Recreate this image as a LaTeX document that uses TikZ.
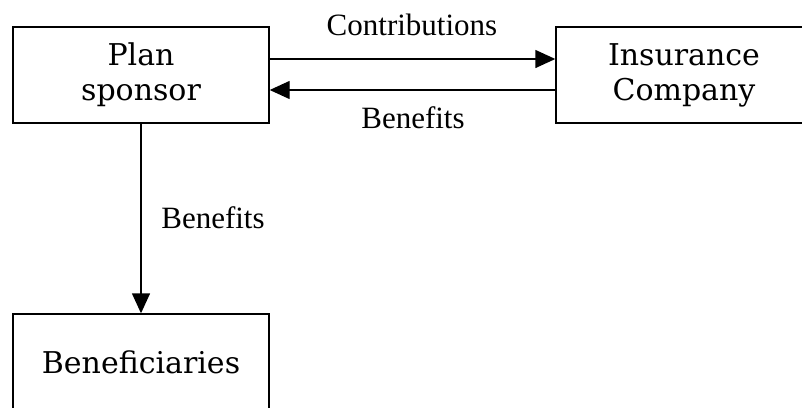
\documentclass[tikz,border=0pt]{standalone}
\usepackage{fontspec}
\setmainfont{Liberation Serif}
\newfontfamily\boxfont{DejaVu Serif}
\usetikzlibrary{arrows.meta}

\begin{document}
\begin{tikzpicture}[x=1pt, y=1pt,
    party/.style={draw, line width=1.4pt, minimum width=256pt, minimum height=96pt,
        align=center, font=\boxfont\fontsize{30}{35}\selectfont},
    flow/.style={line width=1.4pt, -{Triangle[length=20pt, width=18pt]}},
    flowlabel/.style={anchor=base, font=\fontsize{31}{36}\selectfont}]
    \path[use as bounding box, clip] (0,0) rectangle (802,-407);
    % the three parties
    \node[party] (sponsor) at (141,-75) {Plan\\sponsor};
    \node[party] (insurer) at (684,-75) {Insurance\\Company};
    \node[party] (benef) at (141,-362) {Beneficiaries};
    % money flows
    \draw[flow] ([yshift=16pt]sponsor.east) -- ([yshift=16pt]insurer.west);
    \draw[flow] ([yshift=-15pt]insurer.west) -- ([yshift=-15pt]sponsor.east);
    \draw[flow] (sponsor.south) -- (benef.north);
    \node[flowlabel] (contrib) at (412,-35) {Contributions};
    \node[flowlabel] (benefback) at (413,-128) {Benefits};
    \node[flowlabel] (benefdown) at (213,-228) {Benefits};
\end{tikzpicture}
\end{document}
